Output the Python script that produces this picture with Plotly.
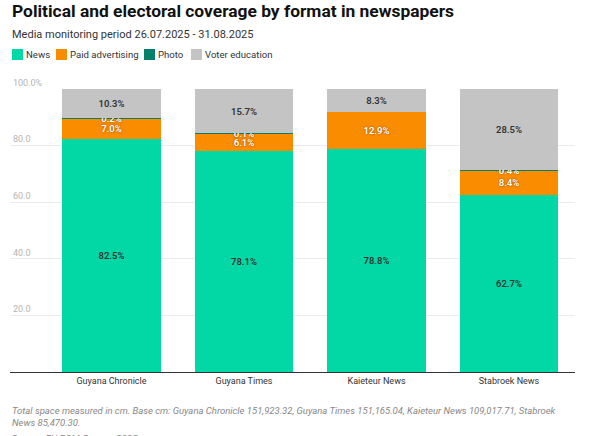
import plotly.graph_objects as go

# Newspapers and share of coverage (%) by format
papers = ['Guyana Chronicle', 'Guyana Times', 'Kaieteur News', 'Stabroek News']
news = [82.5, 78.1, 78.8, 62.7]
paid_advertising = [7.0, 6.1, 12.9, 8.4]
photo = [0.2, 0.1, None, 0.4]
voter_education = [10.3, 15.7, 8.3, 28.5]

y_ticks = [20, 40, 60, 80, 100]
y_tick_labels = ['20.0', '40.0', '60.0', '80.0', '100.0%']

W, H = 592, 436
PLOT_LEFT, PLOT_RIGHT = 10, 575
PLOT_TOP, PLOT_BOTTOM = 89, 372


def px_x(px):
    # page column -> paper x
    return (px - PLOT_LEFT) / (PLOT_RIGHT - PLOT_LEFT)


def px_y(px):
    # page row -> paper y
    return (PLOT_BOTTOM - px) / (PLOT_BOTTOM - PLOT_TOP)


FONT = 'Roboto'
shadow = '0px 0px 2px rgba(0,0,0,0.55)'

series = [
    ('News', news, '#02d8a6', dict(color='#333333', shadow='none')),
    ('Paid advertising', paid_advertising, '#fa8c00', dict(color='#ffffff', shadow=shadow)),
    ('Photo', photo, '#03806b', dict(color='#ffffff', shadow=shadow)),
    ('Voter education', voter_education, '#c4c4c4', dict(color='#333333', shadow='none')),
]

fig = go.Figure()
for name, vals, color, tf in series:
    fig.add_trace(go.Bar(
        x=papers,
        y=vals,
        name=name,
        marker=dict(color=color, line=dict(width=0)),
        text=[None if v is None else f'{v:.1f}%' for v in vals],
        textposition='inside',
        insidetextanchor='middle',
        constraintext='none',
        textangle=0,
        textfont=dict(family=FONT, size=9.5, weight=600, **tf),
        hoverinfo='skip',
        showlegend=False,
    ))

fig.update_layout(
    barmode='stack',
    bargap=0.26,
    width=W,
    height=H,
    paper_bgcolor='white',
    plot_bgcolor='white',
    font=dict(family=FONT, color='#333333'),
    margin=dict(l=PLOT_LEFT, r=W - PLOT_RIGHT, t=PLOT_TOP, b=H - PLOT_BOTTOM,
                autoexpand=False),
    showlegend=False,
)

fig.update_xaxes(
    range=[-0.766, 3.498],
    showline=True, linecolor='#333333', linewidth=1,
    ticks='', showgrid=False,
    tickfont=dict(family=FONT, size=9, color='#333333'),
)
fig.update_yaxes(
    range=[0, 100],
    tickvals=y_ticks, ticktext=y_tick_labels,
    ticklabelposition='inside top',
    ticklabeloverflow='allow',
    tickfont=dict(family=FONT, size=9, color='#b5b5b5'),
    showgrid=True, gridcolor='#ebebeb', gridwidth=1,
    zeroline=False, showline=False, ticks='',
)

# title and subtitle
fig.add_annotation(
    text='<b>Political and electoral coverage by format in newspapers</b>',
    xref='paper', yref='paper', x=px_x(10), y=px_y(-1), xanchor='left', yanchor='top',
    showarrow=False, align='left',
    font=dict(family=FONT, size=17.4, color='#111111'),
)
fig.add_annotation(
    text='Media monitoring period 26.07.2025 - 31.08.2025',
    xref='paper', yref='paper', x=px_x(10), y=px_y(26), xanchor='left', yanchor='top',
    showarrow=False, align='left',
    font=dict(family=FONT, size=11, color='#333333'),
)

# compact legend drawn as swatches + labels
legend_swatch_left = [12, 56, 144, 191]
for (name, _, color, _), sx in zip(series, legend_swatch_left):
    fig.add_shape(
        type='rect', xref='paper', yref='paper',
        x0=px_x(sx), x1=px_x(sx + 11), y0=px_y(60), y1=px_y(49),
        fillcolor=color, line=dict(width=0),
    )
    fig.add_annotation(
        text=name, xref='paper', yref='paper',
        x=px_x(sx + 12), y=px_y(54.5), xanchor='left', yanchor='middle',
        showarrow=False, font=dict(family=FONT, size=9.6, color='#333333'),
    )

# notes and source
fig.add_annotation(
    text=('<i>Total space measured in cm. Base cm: Guyana Chronicle 151,923.32, Guyana Times 151,165.04, '
          'Kaieteur News 109,017.71, Stabroek<br>News 85,470.30.</i>'),
    xref='paper', yref='paper', x=px_x(10), y=px_y(403), xanchor='left', yanchor='top',
    showarrow=False, align='left',
    font=dict(family=FONT, size=9.5, color='#888888'),
)
fig.add_annotation(
    text='Source: EU EOM Guyana 2025',
    xref='paper', yref='paper', x=px_x(10), y=px_y(431), xanchor='left', yanchor='top',
    showarrow=False, align='left',
    font=dict(family=FONT, size=9.5, color='#888888'),
)

# drop the default page margin so the figure sits at the window's corner
fig.write_html('out.html', config={'displayModeBar': False},
               post_script="document.body.style.margin = '0';")
